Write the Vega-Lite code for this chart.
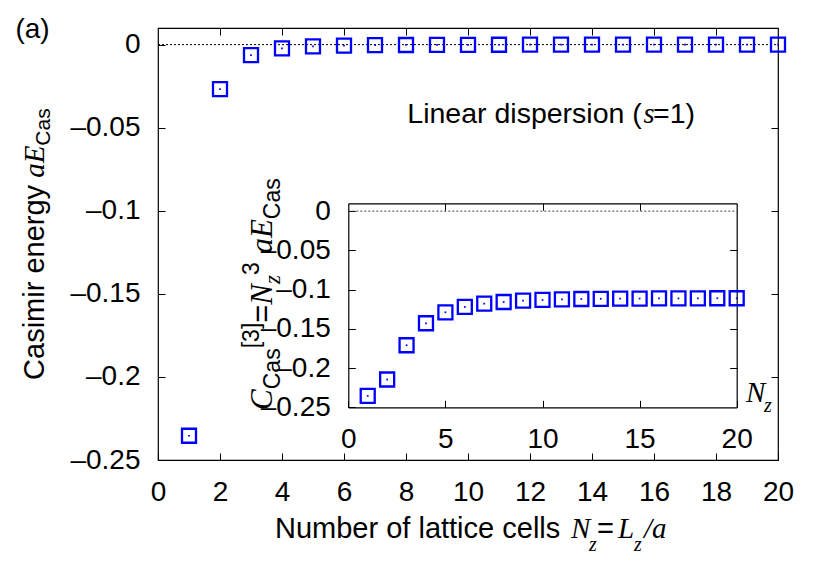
{
  "$schema": "https://vega.github.io/schema/vega-lite/v6.json",
  "width": 620,
  "height": 432,
  "autosize": {"type": "none"},
  "padding": {"left": 158, "top": 28, "right": 52, "bottom": 121},
  "background": "white",
  "config": {
    "view": {"stroke": "#000", "strokeWidth": 1.2},
    "axis": {
      "grid": false,
      "labelFont": "Liberation Sans",
      "labelFontSize": 28,
      "labelColor": "#000",
      "tickColor": "#000",
      "tickWidth": 1,
      "domainColor": "#000",
      "domainWidth": 1.2,
      "labelFlush": false,
      "labelOverlap": false,
      "labelBound": false
    },
    "text": {"color": "#000"}
  },
  "datasets": {
    "pts": [
      {"N": 1, "E": -0.2354, "C": -0.2354},
      {"N": 2, "E": -0.02683, "C": -0.2146},
      {"N": 3, "E": -0.00633, "C": -0.1709},
      {"N": 4, "E": -0.00223, "C": -0.1429},
      {"N": 5, "E": -0.00103, "C": -0.1289},
      {"N": 6, "E": -0.000565, "C": -0.1221},
      {"N": 7, "E": -0.000344, "C": -0.1179},
      {"N": 8, "E": -0.000226, "C": -0.1158},
      {"N": 9, "E": -0.000157, "C": -0.1141},
      {"N": 10, "E": -0.000113, "C": -0.1132},
      {"N": 11, "E": -0.0000845, "C": -0.1124},
      {"N": 12, "E": -0.0000648, "C": -0.112},
      {"N": 13, "E": -0.0000508, "C": -0.1117},
      {"N": 14, "E": -0.0000406, "C": -0.1115},
      {"N": 15, "E": -0.000033, "C": -0.1114},
      {"N": 16, "E": -0.0000272, "C": -0.1113},
      {"N": 17, "E": -0.0000226, "C": -0.1112},
      {"N": 18, "E": -0.000019, "C": -0.1111},
      {"N": 19, "E": -0.0000162, "C": -0.111},
      {"N": 20, "E": -0.0000139, "C": -0.111}
    ]
  },
  "data": {"values": [{}]},
  "resolve": {"scale": {"x": "independent", "y": "independent"}},
  "layer": [
    {
      "resolve": {"axis": {"x": "independent", "y": "independent"}},
      "layer": [
        {
          "mark": {"type": "rule", "color": "#000", "strokeWidth": 1, "strokeDash": [2, 2]},
          "encoding": {
            "x": {"datum": 0, "type": "quantitative", "axis": null, "scale": {"domain": [0, 20], "nice": false, "zero": false}},
            "x2": {"datum": 20},
            "y": {"datum": 0, "type": "quantitative", "axis": null, "scale": {"domain": [-0.25, 0.01], "nice": false, "zero": false}}
          }
        },
        {
          "data": {"name": "pts"},
          "mark": {"type": "point", "shape": "square", "size": 196, "strokeWidth": 2.3, "color": "#0000ff", "filled": false, "opacity": 1},
          "encoding": {
            "x": {"field": "N", "type": "quantitative", "scale": {"domain": [0, 20], "nice": false, "zero": false},
                  "axis": {"orient": "bottom", "values": [0, 2, 4, 6, 8, 10, 12, 14, 16, 18, 20], "tickSize": -7, "labelPadding": 25, "domain": false, "title": null, "format": "d"}},
            "y": {"field": "E", "type": "quantitative", "scale": {"domain": [-0.25, 0.01], "nice": false, "zero": false},
                  "axis": {"orient": "left", "values": [0, -0.05, -0.1, -0.15, -0.2, -0.25], "tickSize": -7, "labelPadding": 25, "domain": false, "title": null,
                           "labelExpr": "datum.value == 0 ? '0' : '–' + format(-datum.value, '~g')"}}
          }
        },
        {
          "data": {"name": "pts"},
          "mark": {"type": "point", "shape": "square", "size": 3, "color": "#0000ff", "filled": true, "opacity": 1},
          "encoding": {
            "x": {"field": "N", "type": "quantitative", "axis": null},
            "y": {"field": "E", "type": "quantitative", "axis": null}
          }
        },
        {
          "data": {"name": "pts"},
          "mark": {"type": "point", "opacity": 0},
          "encoding": {
            "x": {"field": "N", "type": "quantitative",
                  "axis": {"orient": "top", "values": [2, 4, 6, 8, 10, 12, 14, 16, 18], "tickSize": -7, "labels": false, "domain": false, "title": null}},
            "y": {"field": "E", "type": "quantitative",
                  "axis": {"orient": "right", "values": [-0.05, -0.1, -0.15, -0.2], "tickSize": -7, "labels": false, "domain": false, "title": null}}
          }
        },
        {"mark": {"type": "text", "text": "(a)", "font": "Liberation Sans", "fontSize": 28, "align": "left", "baseline": "alphabetic"},
         "encoding": {"x": {"datum": -4.6, "axis": null}, "y": {"datum": 0.0042, "axis": null}}},

        {"mark": {"type": "text", "text": "Linear dispersion (", "font": "Liberation Sans", "fontSize": 28.5, "align": "left", "baseline": "alphabetic"},
         "encoding": {"x": {"datum": 8.042, "axis": null}, "y": {"datum": -0.04717, "axis": null}}},
        {"mark": {"type": "text", "text": "s", "font": "Liberation Serif", "fontStyle": "italic", "fontSize": 28.5, "align": "left", "baseline": "alphabetic"},
         "encoding": {"x": {"datum": 15.661, "axis": null}, "y": {"datum": -0.04717, "axis": null}}},
        {"mark": {"type": "text", "text": "=1)", "font": "Liberation Sans", "fontSize": 28.5, "align": "left", "baseline": "alphabetic"},
         "encoding": {"x": {"datum": 15.968, "axis": null}, "y": {"datum": -0.04717, "axis": null}}},

        {"mark": {"type": "text", "text": "Number of lattice cells", "font": "Liberation Sans", "fontSize": 29, "align": "left", "baseline": "alphabetic"},
         "encoding": {"x": {"datum": 3.774, "axis": null}, "y": {"datum": -0.29699, "axis": null}}},
        {"mark": {"type": "text", "text": "N", "font": "Liberation Serif", "fontStyle": "italic", "fontSize": 29, "align": "left", "baseline": "alphabetic"},
         "encoding": {"x": {"datum": 13.323, "axis": null}, "y": {"datum": -0.29699, "axis": null}}},
        {"mark": {"type": "text", "text": "z", "font": "Liberation Serif", "fontStyle": "italic", "fontSize": 20, "align": "left", "baseline": "alphabetic"},
         "encoding": {"x": {"datum": 13.903, "axis": null}, "y": {"datum": -0.30482, "axis": null}}},
        {"mark": {"type": "text", "text": "=", "font": "Liberation Sans", "fontSize": 29, "align": "left", "baseline": "alphabetic"},
         "encoding": {"x": {"datum": 14.161, "axis": null}, "y": {"datum": -0.29699, "axis": null}}},
        {"mark": {"type": "text", "text": "L", "font": "Liberation Serif", "fontStyle": "italic", "fontSize": 29, "align": "left", "baseline": "alphabetic"},
         "encoding": {"x": {"datum": 14.839, "axis": null}, "y": {"datum": -0.29699, "axis": null}}},
        {"mark": {"type": "text", "text": "z", "font": "Liberation Serif", "fontStyle": "italic", "fontSize": 20, "align": "left", "baseline": "alphabetic"},
         "encoding": {"x": {"datum": 15.355, "axis": null}, "y": {"datum": -0.30482, "axis": null}}},
        {"mark": {"type": "text", "text": "/a", "font": "Liberation Serif", "fontStyle": "italic", "fontSize": 29, "align": "left", "baseline": "alphabetic"},
         "encoding": {"x": {"datum": 15.677, "axis": null}, "y": {"datum": -0.29699, "axis": null}}},

        {"mark": {"type": "text", "text": "Casimir energy", "font": "Liberation Sans", "fontSize": 29, "align": "left", "baseline": "alphabetic", "angle": 270},
         "encoding": {"x": {"datum": -3.677, "axis": null}, "y": {"datum": -0.20181, "axis": null}}},
        {"mark": {"type": "text", "text": "aE", "font": "Liberation Serif", "fontStyle": "italic", "fontSize": 29, "align": "left", "baseline": "alphabetic", "angle": 270},
         "encoding": {"x": {"datum": -3.677, "axis": null}, "y": {"datum": -0.08012, "axis": null}}},
        {"mark": {"type": "text", "text": "Cas", "font": "Liberation Sans", "fontSize": 21, "align": "left", "baseline": "alphabetic", "angle": 270},
         "encoding": {"x": {"datum": -3.484, "axis": null}, "y": {"datum": -0.06084, "axis": null}}},

        {"mark": {"type": "text", "text": "C", "font": "Liberation Serif", "fontStyle": "italic", "fontSize": 31, "align": "left", "baseline": "alphabetic", "angle": 270},
         "encoding": {"x": {"datum": 3.677, "axis": null}, "y": {"datum": -0.21988, "axis": null}}},
        {"mark": {"type": "text", "text": "Cas", "font": "Liberation Sans", "fontSize": 23, "align": "left", "baseline": "alphabetic", "angle": 270},
         "encoding": {"x": {"datum": 3.935, "axis": null}, "y": {"datum": -0.20741, "axis": null}}},
        {"mark": {"type": "text", "text": "[3]", "font": "Liberation Sans", "fontSize": 23, "align": "left", "baseline": "alphabetic", "angle": 270},
         "encoding": {"x": {"datum": 3.258, "axis": null}, "y": {"datum": -0.18277, "axis": null}}},
        {"mark": {"type": "text", "text": "=", "font": "Liberation Sans", "fontSize": 31, "align": "left", "baseline": "alphabetic", "angle": 270},
         "encoding": {"x": {"datum": 3.677, "axis": null}, "y": {"datum": -0.16741, "axis": null}}},
        {"mark": {"type": "text", "text": "N", "font": "Liberation Serif", "fontStyle": "italic", "fontSize": 31, "align": "left", "baseline": "alphabetic", "angle": 270},
         "encoding": {"x": {"datum": 3.677, "axis": null}, "y": {"datum": -0.15651, "axis": null}}},
        {"mark": {"type": "text", "text": "z", "font": "Liberation Serif", "fontStyle": "italic", "fontSize": 23, "align": "left", "baseline": "alphabetic", "angle": 270},
         "encoding": {"x": {"datum": 3.935, "axis": null}, "y": {"datum": -0.14404, "axis": null}}},
        {"mark": {"type": "text", "text": "3", "font": "Liberation Sans", "fontSize": 23, "align": "left", "baseline": "alphabetic", "angle": 270},
         "encoding": {"x": {"datum": 3.258, "axis": null}, "y": {"datum": -0.13867, "axis": null}}},
        {"mark": {"type": "text", "text": "aE", "font": "Liberation Serif", "fontStyle": "italic", "fontSize": 31, "align": "left", "baseline": "alphabetic", "angle": 270},
         "encoding": {"x": {"datum": 3.677, "axis": null}, "y": {"datum": -0.12578, "axis": null}}},
        {"mark": {"type": "text", "text": "Cas", "font": "Liberation Sans", "fontSize": 23, "align": "left", "baseline": "alphabetic", "angle": 270},
         "encoding": {"x": {"datum": 3.935, "axis": null}, "y": {"datum": -0.10506, "axis": null}}},

        {"mark": {"type": "text", "text": "N", "font": "Liberation Serif", "fontStyle": "italic", "fontSize": 29, "align": "left", "baseline": "alphabetic"},
         "encoding": {"x": {"datum": 18.968, "axis": null}, "y": {"datum": -0.21506, "axis": null}}},
        {"mark": {"type": "text", "text": "z", "font": "Liberation Serif", "fontStyle": "italic", "fontSize": 20, "align": "left", "baseline": "alphabetic"},
         "encoding": {"x": {"datum": 19.548, "axis": null}, "y": {"datum": -0.22108, "axis": null}}}
      ]
    },
    {
      "resolve": {"axis": {"x": "independent", "y": "independent"}},
      "layer": [
        {
          "mark": {"type": "rule", "color": "#444", "strokeWidth": 1, "strokeDash": [2, 2]},
          "encoding": {
            "x": {"datum": 0, "type": "quantitative", "axis": null, "scale": {"domain": [0, 20], "nice": false, "zero": false, "range": [190.3, 578.7]}},
            "x2": {"datum": 20},
            "y": {"datum": 0, "type": "quantitative", "axis": null, "scale": {"domain": [-0.25, 0.01], "nice": false, "zero": false, "range": [379.3, 175.3]}}
          }
        },
        {
          "data": {"name": "pts"},
          "mark": {"type": "point", "shape": "square", "size": 196, "strokeWidth": 2.3, "color": "#0000ff", "filled": false, "opacity": 1},
          "encoding": {
            "x": {"field": "N", "type": "quantitative", "scale": {"domain": [0, 20], "nice": false, "zero": false, "range": [190.3, 578.7]},
                  "axis": {"orient": "bottom", "offset": -52.7, "values": [0, 5, 10, 15, 20], "tickSize": -7, "labelPadding": 25, "domain": true, "title": null, "format": "d"}},
            "y": {"field": "C", "type": "quantitative", "scale": {"domain": [-0.25, 0.01], "nice": false, "zero": false, "range": [379.3, 175.3]},
                  "axis": {"orient": "left", "offset": -190.3, "values": [0, -0.05, -0.1, -0.15, -0.2, -0.25], "tickSize": -7, "labelPadding": 25, "domain": true, "title": null,
                           "labelExpr": "datum.value == 0 ? '0' : '–' + format(-datum.value, '~g')"}}
          }
        },
        {
          "data": {"name": "pts"},
          "mark": {"type": "point", "shape": "square", "size": 3, "color": "#0000ff", "filled": true, "opacity": 1},
          "encoding": {
            "x": {"field": "N", "type": "quantitative", "axis": null},
            "y": {"field": "C", "type": "quantitative", "axis": null}
          }
        },
        {
          "data": {"name": "pts"},
          "mark": {"type": "point", "opacity": 0},
          "encoding": {
            "x": {"field": "N", "type": "quantitative",
                  "axis": {"orient": "top", "offset": -175.3, "values": [5, 10, 15], "tickSize": -7, "labels": false, "domain": true, "title": null}},
            "y": {"field": "C", "type": "quantitative",
                  "axis": {"orient": "right", "offset": -41.3, "values": [-0.05, -0.1, -0.15, -0.2], "tickSize": -7, "labels": false, "domain": true, "title": null}}
          }
        }
      ]
    }
  ]
}
